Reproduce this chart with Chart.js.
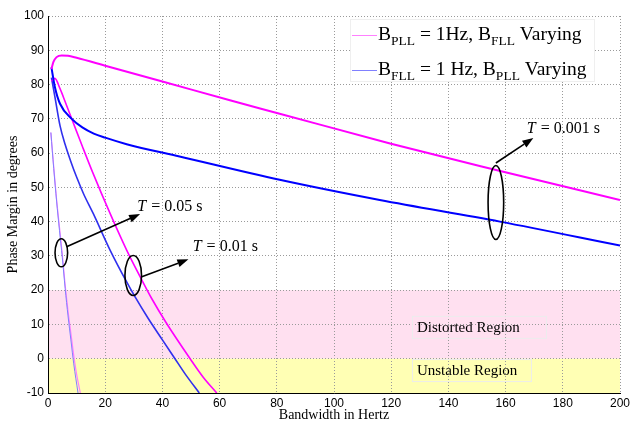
<!DOCTYPE html>
<html>
<head>
<meta charset="utf-8">
<title>Phase Margin vs Bandwidth</title>
<script src="https://cdn.jsdelivr.net/npm/chart.js@4.4.0/dist/chart.umd.min.js"></script>
<style>
    body { margin: 0; background: #fff; }
    #wrap { width: 642px; height: 421px; }
</style>
</head>
<body>
<div id="wrap"><canvas id="pm" width="642" height="421"></canvas></div>
<script>
// tick values
const xTicks = [0, 20, 40, 60, 80, 100, 120, 140, 160, 180, 200];
const yTicks = [-10, 0, 10, 20, 30, 40, 50, 60, 70, 80, 90, 100];

// T = 0.001 s
const bwA_pll = [1.2, 1.9, 3, 4.8, 7, 10, 20, 40, 63.6, 81, 119.6, 154.5, 200];
const pmA_pll = [84.5, 86.6, 88, 88.5, 88.4, 87.8, 85.5, 80.9, 75.4, 71.5, 62.8, 55.5, 46.3];
const bwA_fll = [1.2, 2.4, 4.2, 8.3, 12, 16, 20, 27.5, 46, 81, 116, 158, 200];
const pmA_fll = [85, 79.3, 74.4, 70, 67.5, 65.7, 64.5, 62.6, 59, 52.2, 46.3, 40, 33];

// T = 0.01 s
const bwB_pll = [1.2, 2.4, 4.2, 6, 8.3, 12, 15.8, 21.7, 27.5, 32.8, 36.3, 41.1, 49.7, 54.2, 59];
const pmB_pll = [81, 81.8, 78.8, 75, 70, 62, 54, 42.4, 31.7, 23, 17.5, 10.8, 0, -5.3, -10];
const bwB_fll = [1.2, 2.4, 4.2, 6, 8, 10, 12.5, 15.8, 21.7, 27.5, 30.4, 35, 40, 44.4, 48, 52.9];
const pmB_fll = [82, 76.5, 68, 62.5, 57.5, 53, 48, 42.4, 31.7, 22.4, 18.1, 11.8, 5.5, 0, -4.5, -10];

// T = 0.05 s
const bwC_pll = [1, 2, 3, 4, 5, 6, 7, 8, 9, 10, 11.3];
const pmC_pll = [66, 56, 46.5, 38.5, 30.5, 21.5, 14, 7.5, 1, -4.5, -10];
const bwC_fll = [1, 2, 3, 4, 5, 6, 7, 8, 9, 10.5];
const pmC_fll = [66, 55.5, 46, 37.5, 29.5, 20.5, 12.5, 5.5, -1.5, -10];

// shaded bands and their names
const bandLimits = [[0, 20], [-10, 0]];
const bandNames = ['Distorted Region', 'Unstable Region'];

function pts(xs, ys) {
    return xs.map((x, i) => ({ x: x, y: ys[i] }));
}

function line(data, color, width) {
    return {
        data: data,
        borderColor: color,
        borderWidth: width,
        pointRadius: 0,
        showLine: true,
        fill: false,
        cubicInterpolationMode: 'monotone'
    };
}

const serif = '"Liberation Serif", "Times New Roman", serif';

// pink / yellow regions, drawn under the grid
const bandsPlugin = {
    id: 'bands',
    beforeDraw(chart) {
        const { ctx, chartArea: a, scales: { y } } = chart;
        const colors = ['#ffe0f0', '#ffffb4'];
        ctx.save();
        bandLimits.forEach((b, i) => {
            const top = y.getPixelForValue(b[1]);
            const bot = y.getPixelForValue(b[0]);
            ctx.fillStyle = colors[i];
            ctx.fillRect(a.left, top, a.right - a.left, bot - top);
        });
        ctx.restore();
    },
    beforeDatasetsDraw(chart) {
        const { ctx, scales: { x, y } } = chart;
        const at = [[129, 9], [129, -3.6]];
        const boxW = [134, 119];
        ctx.save();
        ctx.font = '15px ' + serif;
        ctx.textBaseline = 'middle';
        bandNames.forEach((name, i) => {
            const px = x.getPixelForValue(at[i][0]);
            const py = y.getPixelForValue(at[i][1]);
            ctx.strokeStyle = '#ececec';
            ctx.lineWidth = 1;
            ctx.strokeRect(px - 4.5, py - 11.5, boxW[i], 22);
            ctx.fillStyle = '#000';
            ctx.fillText(name, px, py);
        });
        ctx.restore();
    }
};

// ellipses, arrows and T labels
const notes = [
    { cx: 4.66, cy: 30.9, rx: 6.3, ry: 14, from: [6.5, 32.7], to: [32.2, 42.2], label: '0.05', at: [31.2, 44.3] },
    { cx: 29.8, cy: 24.3, rx: 8.3, ry: 20, from: [32.8, 23.9], to: [49.1, 29.0], label: '0.01', at: [50.6, 32.8] },
    { cx: 156.6, cy: 45.6, rx: 7.8, ry: 37, from: [156.6, 57.1], to: [169.7, 64.4], label: '0.001', at: [167.4, 67] }
];

const notesPlugin = {
    id: 'notes',
    afterDatasetsDraw(chart) {
        const { ctx, scales: { x, y } } = chart;
        ctx.save();
        ctx.strokeStyle = '#000';
        ctx.fillStyle = '#000';
        ctx.lineWidth = 1.6;
        notes.forEach(n => {
            ctx.beginPath();
            ctx.ellipse(x.getPixelForValue(n.cx), y.getPixelForValue(n.cy), n.rx, n.ry, 0, 0, Math.PI * 2);
            ctx.stroke();

            const x1 = x.getPixelForValue(n.from[0]), y1 = y.getPixelForValue(n.from[1]);
            const x2 = x.getPixelForValue(n.to[0]), y2 = y.getPixelForValue(n.to[1]);
            const ang = Math.atan2(y2 - y1, x2 - x1);
            const hl = 11, hw = 4;
            const bx = x2 - hl * Math.cos(ang), by = y2 - hl * Math.sin(ang);
            ctx.beginPath();
            ctx.moveTo(x1, y1);
            ctx.lineTo(bx, by);
            ctx.stroke();
            ctx.beginPath();
            ctx.moveTo(x2, y2);
            ctx.lineTo(bx + hw * Math.sin(ang), by - hw * Math.cos(ang));
            ctx.lineTo(bx - hw * Math.sin(ang), by + hw * Math.cos(ang));
            ctx.closePath();
            ctx.fill();

            const lx = x.getPixelForValue(n.at[0]), ly = y.getPixelForValue(n.at[1]);
            ctx.textBaseline = 'middle';
            ctx.font = 'italic 16px ' + serif;
            ctx.fillText('T', lx, ly);
            const tw = ctx.measureText('T').width;
            ctx.font = '16px ' + serif;
            ctx.fillText(' = ' + n.label + ' s', lx + tw + 1, ly);
        });
        ctx.restore();
    }
};

// legend with subscripts
function drawRich(ctx, parts, px, py) {
    parts.forEach(p => {
        if (p.sub) {
            ctx.font = '13.5px ' + serif;
            ctx.fillText(p.t, px, py + 6);
        } else {
            ctx.font = '19.5px ' + serif;
            ctx.fillText(p.t, px, py);
        }
        px += ctx.measureText(p.t).width;
    });
}

const legendPlugin = {
    id: 'richLegend',
    afterDraw(chart) {
        const { ctx, chartArea: a } = chart;
        const left = a.right - 270, top = a.top + 3;
        ctx.save();
        ctx.fillStyle = '#fff';
        ctx.fillRect(left, top, 244, 62);
        ctx.strokeStyle = '#efefef';
        ctx.lineWidth = 1;
        ctx.strokeRect(left + 0.5, top + 0.5, 244, 62);
        const rows = [
            { color: '#ff80ff', parts: [{ t: 'B' }, { t: 'PLL', sub: true }, { t: ' = 1Hz, B' }, { t: 'FLL', sub: true }, { t: ' Varying' }] },
            { color: '#8080ff', parts: [{ t: 'B' }, { t: 'FLL', sub: true }, { t: ' = 1 Hz, B' }, { t: 'PLL', sub: true }, { t: ' Varying' }] }
        ];
        rows.forEach((r, i) => {
            const ry = top + 16 + i * 35;
            ctx.strokeStyle = r.color;
            ctx.lineWidth = 1;
            ctx.beginPath();
            ctx.moveTo(left + 2, ry + 0.5);
            ctx.lineTo(left + 27, ry + 0.5);
            ctx.stroke();
            ctx.fillStyle = '#000';
            ctx.textBaseline = 'middle';
            drawRich(ctx, r.parts, left + 28, ry);
        });
        ctx.restore();
    }
};

const ctx = document.getElementById('pm').getContext('2d');
new Chart(ctx, {
    type: 'scatter',
    data: {
        datasets: [
            line(pts(bwA_pll, pmA_pll), '#ff00ff', 2),
            line(pts(bwA_fll, pmA_fll), '#0000ff', 2),
            line(pts(bwB_pll, pmB_pll), '#ff00ff', 1.6),
            line(pts(bwB_fll, pmB_fll), '#3030ee', 1.6),
            line(pts(bwC_fll, pmC_fll), '#8080ff', 1),
            line(pts(bwC_pll, pmC_pll), '#ff80ff', 1.2)
        ]
    },
    options: {
        responsive: false,
        animation: false,
        layout: { padding: { top: 16, right: 22, left: 0, bottom: 0 } },
        plugins: {
            legend: { display: false },
            tooltip: { enabled: false }
        },
        scales: {
            x: {
                type: 'linear',
                min: 0,
                max: 200,
                afterBuildTicks: s => { s.ticks = xTicks.map(v => ({ value: v })); },
                afterFit: s => { s.height = 28; },
                grid: { color: '#9a9a9a', lineWidth: 1, drawTicks: false },
                border: { color: '#000', width: 1, dash: [1, 2] },
                ticks: {
                    padding: 3,
                    color: '#000',
                    maxRotation: 0,
                    font: { family: '"Liberation Sans", Arial, sans-serif', size: 12 }
                },
                title: {
                    display: true,
                    text: 'Bandwidth in Hertz',
                    color: '#000',
                    padding: { top: 0, bottom: -1 },
                    font: { family: serif, size: 14, lineHeight: 1 }
                }
            },
            y: {
                type: 'linear',
                min: -10,
                max: 100,
                afterBuildTicks: s => { s.ticks = yTicks.map(v => ({ value: v })); },
                afterFit: s => { s.width = 48; },
                grid: { color: '#9a9a9a', lineWidth: 1, drawTicks: false },
                border: { color: '#000', width: 1, dash: [1, 2] },
                ticks: {
                    padding: 4,
                    color: '#000',
                    font: { family: '"Liberation Sans", Arial, sans-serif', size: 12 }
                },
                title: {
                    display: true,
                    text: 'Phase Margin in degrees',
                    color: '#000',
                    padding: { top: 6, bottom: 0 },
                    font: { family: serif, size: 14, lineHeight: 1 }
                }
            }
        }
    },
    plugins: [bandsPlugin, notesPlugin, legendPlugin]
});
</script>
</body>
</html>
